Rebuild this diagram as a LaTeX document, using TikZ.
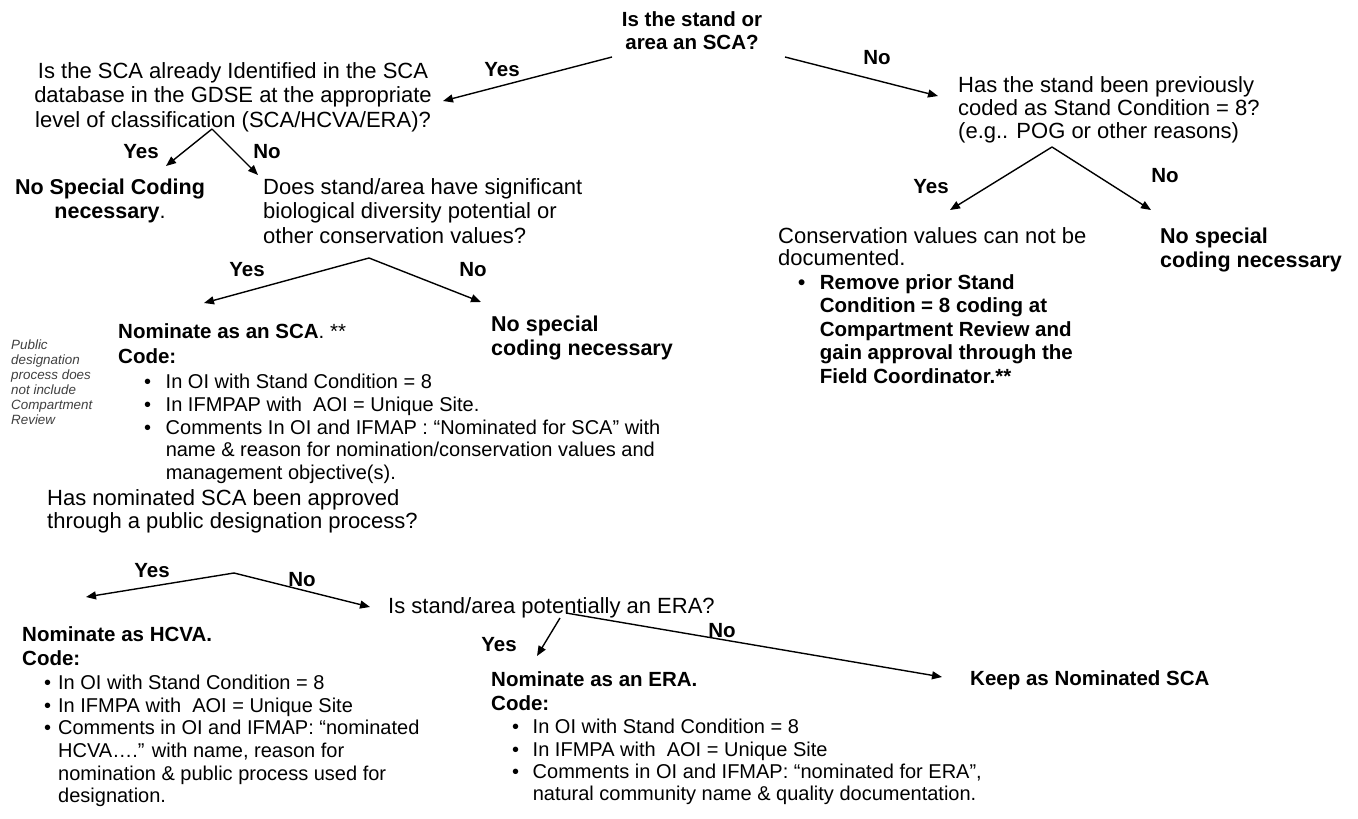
\documentclass[tikz,border=0pt]{standalone}
\usepackage{fontspec}
\setmainfont{Liberation Sans}
\usetikzlibrary{arrows.meta}

\tikzset{
  qtext/.style={inner sep=0pt, anchor=north west, align=left, font=\fontsize{22}{24.5}\selectfont},
  btext/.style={inner sep=0pt, anchor=north west, align=left, font=\bfseries\fontsize{20.5}{23.5}\selectfont},
  outcome/.style={btext, font=\bfseries\fontsize{21.5}{23.5}\selectfont},
  yesno/.style={inner sep=0pt, font=\bfseries\fontsize{20.5}{23.5}\selectfont},
  bullets/.style={inner sep=0pt, anchor=north west, align=left, font=\fontsize{20}{22.6}\selectfont},
  sidenote/.style={inner sep=0pt, anchor=north west, align=left, text=black!75, font=\itshape\fontsize{13.4}{15}\selectfont},
  arr/.style={-{Triangle[length=10pt,width=8pt]}, line width=1.4pt},
}
\newcommand{\itm}[1][14pt]{\makebox[#1][l]{\textbullet}}
\newcommand{\cnt}[1][14pt]{\hspace*{#1}}

\begin{document}
\begin{tikzpicture}[x=1pt,y=-1pt]
  \fill[white] (0,0) rectangle (1358,819);
  \useasboundingbox (0,0) rectangle (1358,819);

  % first question
  \node[btext, anchor=north, align=center] (top) at (692,11) {Is the stand or\\area an SCA?};
  \coordinate (topyes) at (612,57);
  \coordinate (topno) at (785,57);
  \coordinate (q2tip) at (443,101);
  \coordinate (rqtip) at (938,96);
  \node[yesno] (topyeslbl) at (502,70) {Yes};
  \node[yesno] (topnolbl) at (877,58) {No};
  \draw[arr] (topyes) -- (q2tip);
  \draw[arr] (topno) -- (rqtip);

  % left branch
  \node[qtext, anchor=north, align=center] (q2) at (233,62) {Is the SCA already Identified in the SCA\\database in the GDSE at the appropriate\\level of classification (SCA/HCVA/ERA)?};
  \coordinate (q2fork) at (212,129);
  \coordinate (q2yes) at (166,166);
  \coordinate (q2no) at (258,175);
  \node[yesno] (q2yeslbl) at (141,152) {Yes};
  \node[yesno] (q2nolbl) at (267,152) {No};
  \draw[arr] (q2fork) -- (q2yes);
  \draw[arr] (q2fork) -- (q2no);

  \node[outcome, anchor=north, align=center] (nocoding1) at (110,179) {No Special Coding\\necessary\textmd{.}};
  \node[qtext] (q3) at (263,178) {Does stand/area have significant\\biological diversity potential or\\other conservation values?};
  \coordinate (q3fork) at (369,258);
  \coordinate (q3yes) at (204,303);
  \coordinate (q3no) at (481,302);
  \node[yesno] (q3yeslbl) at (247,270) {Yes};
  \node[yesno] (q3nolbl) at (473,270) {No};
  \draw[arr] (q3fork) -- (q3yes);
  \draw[arr] (q3fork) -- (q3no);

  \node[btext, font=\bfseries\fontsize{20.5}{25}\selectfont] (nomsca) at (118,323) {Nominate as an SCA\textmd{. **}\\Code:};
  \node[bullets, font=\fontsize{20}{22.75}\selectfont] (scalist) at (144,374) {\itm[16pt] In OI with Stand Condition = 8\\
    \itm[16pt] In IFMPAP with\ \ AOI = Unique Site.\\
    \itm[16pt] Comments In OI and IFMAP : “Nominated for SCA” with\\
    \cnt[16pt] name \& reason for nomination/conservation values and\\
    \cnt[16pt] management objective(s).};
  \node[outcome] (nocoding2) at (491,316) {No special\\coding necessary};
  \node[sidenote] (note) at (11,340) {Public\\designation\\process does\\not include\\Compartment\\Review};

  % right branch
  \node[qtext, font=\fontsize{22}{23}\selectfont] (rq) at (958,76) {Has the stand been previously\\coded as Stand Condition = 8?\\(e.g.. POG or other reasons)};
  \coordinate (rfork) at (1052,147);
  \coordinate (ryes) at (950,210);
  \coordinate (rno) at (1151,210);
  \node[yesno] (ryeslbl) at (931,187) {Yes};
  \node[yesno] (rnolbl) at (1165,176) {No};
  \draw[arr] (rfork) -- (ryes);
  \draw[arr] (rfork) -- (rno);

  \node[qtext, font=\fontsize{22}{22.5}\selectfont] (consv) at (778,227) {Conservation values can not be\\documented.};
  \node[btext] (remove) at (798,274) {\itm[16pt] Remove prior Stand\\
    \cnt[16pt] Condition = 8 coding at\\
    \cnt[16pt] Compartment Review and\\
    \cnt[16pt] gain approval through the\\
    \cnt[16pt] Field Coordinator.**};
  \node[outcome] (nocoding3) at (1160,228) {No special\\coding necessary};

  % public designation
  \node[qtext, font=\fontsize{22}{23}\selectfont] (q4) at (47,489) {Has nominated SCA been approved\\through a public designation process?};
  \coordinate (q4fork) at (234,573);
  \coordinate (q4yes) at (86,597);
  \coordinate (q4no) at (370,607);
  \node[yesno] (q4yeslbl) at (152,571) {Yes};
  \node[yesno] (q4nolbl) at (302,580) {No};
  \draw[arr] (q4fork) -- (q4yes);
  \draw[arr] (q4fork) -- (q4no);

  \node[qtext] (q5) at (388,597) {Is stand/area potentially an ERA?};
  \coordinate (q5yesfrom) at (560,618);
  \coordinate (q5yes) at (537,656);
  \coordinate (q5nofrom) at (566,613);
  \coordinate (q5no) at (942,677);
  \node[yesno] (q5yeslbl) at (499,645) {Yes};
  \node[yesno] (q5nolbl) at (722,631) {No};
  \draw[arr] (q5yesfrom) -- (q5yes);
  \draw[arr] (q5nofrom) -- (q5no);

  % outcomes
  \node[btext, font=\bfseries\fontsize{20.5}{24}\selectfont] (nomhcva) at (22,626) {Nominate as HCVA.\\Code:};
  \node[bullets] (hcvalist) at (44,675) {\itm In OI with Stand Condition = 8\\
    \itm In IFMPA with\ \ AOI = Unique Site\\
    \itm Comments in OI and IFMAP: “nominated\\
    \cnt HCVA….” with name, reason for\\
    \cnt nomination \& public process used for\\
    \cnt designation.};
  \node[btext, font=\bfseries\fontsize{20.5}{24}\selectfont] (nomera) at (491,671) {Nominate as an ERA.\\Code:};
  \node[bullets, font=\fontsize{20}{22.4}\selectfont] (eralist) at (512,719) {\itm[15pt] In OI with Stand Condition = 8\\
    \itm[15pt] In IFMPA with\ \ AOI = Unique Site\\
    \itm[15pt] Comments in OI and IFMAP: “nominated for ERA”,\\
    \cnt[15pt] natural community name \& quality documentation.};
  \node[btext] (keep) at (970,670) {Keep as Nominated SCA};
\end{tikzpicture}
\end{document}
